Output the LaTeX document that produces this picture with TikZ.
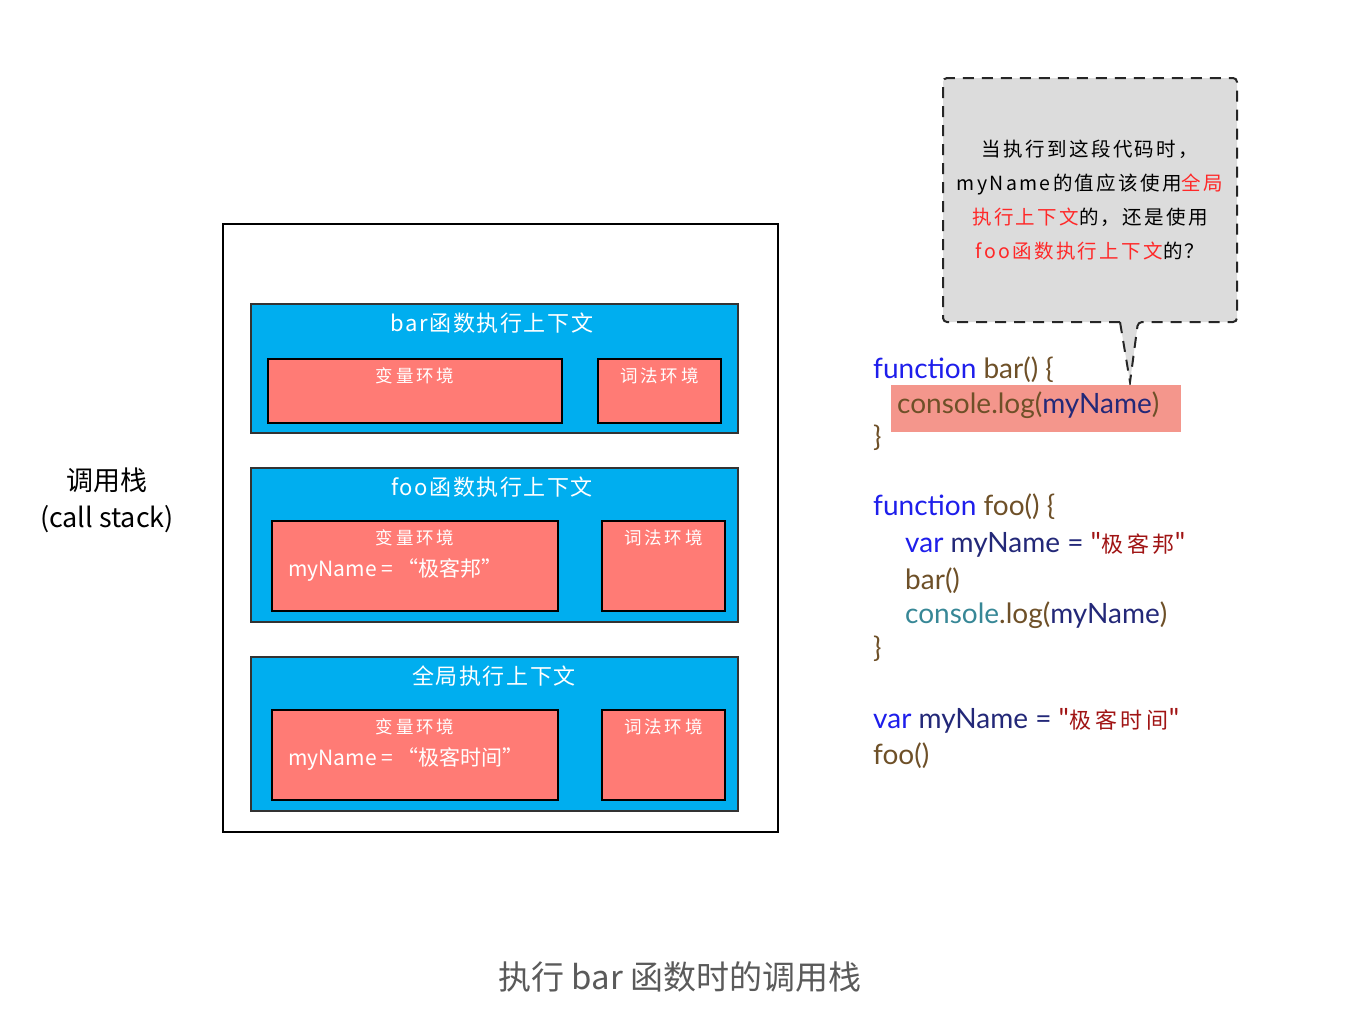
\documentclass[tikz,border=0pt]{standalone}
\usepackage{fontspec}
\setmainfont{Noto Sans CJK SC}
\newfontfamily\cjk{Noto Sans CJK SC}
\newfontfamily\widecjk[LetterSpace=12]{Noto Sans CJK SC}
\newfontfamily\midcjk[LetterSpace=7]{Noto Sans CJK SC}
\newfontfamily\envcjk[LetterSpace=16]{Noto Sans CJK SC}
\newfontfamily\strcjk[LetterSpace=18]{Noto Sans CJK SC}
\newfontfamily\codefont{Lato}
\definecolor{ctxblue}{RGB}{0,174,239}
\definecolor{envred}{RGB}{255,123,117}
\definecolor{hlred}{RGB}{244,150,140}
\definecolor{bubgray}{RGB}{220,220,220}
\definecolor{qred}{RGB}{255,40,40}
\definecolor{kwblue}{RGB}{30,30,235}
\definecolor{fnbrown}{RGB}{110,80,40}
\definecolor{varnavy}{RGB}{35,40,120}
\definecolor{strred}{RGB}{160,20,20}
\definecolor{conteal}{RGB}{55,135,150}
\definecolor{capgray}{RGB}{90,90,90}
\begin{document}
\begin{tikzpicture}[x=1pt,y=-1pt,
  stackbox/.style={draw=black,line width=2.5pt,inner sep=0pt},
  ctxbox/.style={draw=black!80,line width=1.6pt,fill=ctxblue,inner sep=0pt},
  envbox/.style={draw=black,line width=2pt,fill=envred,inner sep=0pt},
  ctxtitle/.style={text=white,font=\midcjk\fontsize{22}{24}\selectfont,inner sep=0pt},
  envtitle/.style={text=white,font=\envcjk\fontsize{17.5}{20}\selectfont,inner sep=0pt},
  envval/.style={text=white,font=\fontsize{21}{24}\selectfont,inner sep=0pt,anchor=west},
  code/.style={font=\codefont\fontsize{28}{32}\selectfont,inner sep=0pt,anchor=west},
  bubtext/.style={font=\widecjk\fontsize{19.5}{34}\selectfont,inner sep=0pt,align=center}
]
\useasboundingbox (0,0) rectangle (1370,1018);

% call stack frame
\node[stackbox,minimum width=555,minimum height=608] (stack) at (500.5,528) {};
\node[font=\fontsize{27}{30}\selectfont,inner sep=0pt] (lbl1) at (107,480) {调用栈};
\node[font=\fontsize{27}{30}\selectfont,inner sep=0pt] (lbl2) at (107,519) {(call stack)};

% bar context
\node[ctxbox,minimum width=487,minimum height=129] (barctx) at (494.5,368.5) {};
\node[ctxtitle] (bartitle) at (492,323) {bar函数执行上下文};
\node[envbox,minimum width=294,minimum height=64] (barvar) at (415,391) {};
\node[envtitle] (barvart) at (415,376) {变量环境};
\node[envbox,minimum width=123,minimum height=64] (barlex) at (659.5,391) {};
\node[envtitle] (barlext) at (659.5,376) {词法环境};

% foo context
\node[ctxbox,minimum width=487,minimum height=154] (fooctx) at (494.5,545) {};
\node[ctxtitle] (footitle) at (492,487) {foo函数执行上下文};
\node[envbox,minimum width=286,minimum height=90] (foovar) at (415,566) {};
\node[envtitle] (foovart) at (415,538) {变量环境};
\node[envval] (fooval) at (288,570) {myName = “极客邦”};
\node[envbox,minimum width=123,minimum height=90] (foolex) at (663.5,566) {};
\node[envtitle] (foolext) at (663.5,538) {词法环境};

% global context
\node[ctxbox,minimum width=487,minimum height=154] (globctx) at (494.5,734) {};
\node[ctxtitle] (globtitle) at (494,676) {全局执行上下文};
\node[envbox,minimum width=286,minimum height=90] (globvar) at (415,755) {};
\node[envtitle] (globvart) at (415,727) {变量环境};
\node[envval] (globval) at (288,759) {myName = “极客时间”};
\node[envbox,minimum width=123,minimum height=90] (globlex) at (663.5,755) {};
\node[envtitle] (globlext) at (663.5,727) {词法环境};

% speech bubble
\coordinate (tipL) at (1120,322);
\coordinate (tipR) at (1138,322);
\coordinate (tip) at (1130,382);
\draw[fill=bubgray,draw=black!85,line width=2pt,dash pattern=on 11pt off 8pt,rounded corners=4pt]
  (tipL) -- (943,322) -- (943,78) -- (1237,78) -- (1237,322) -- (tipR) [sharp corners]-- (tip) -- cycle;
\node[bubtext] (bubble) at (1090,200) {%
当执行到这段代码时，\\
myName的值应该使用\textcolor{qred}{全局}\\
\textcolor{qred}{执行上下文}的，还是使用\\
\textcolor{qred}{foo函数执行上下文}的？};

% code
\node[code] (c1) at (873,370) {\textcolor{kwblue}{function} \textcolor{fnbrown}{bar() \{}};
\node[fill=hlred,minimum width=290,minimum height=47,inner sep=0pt] (hl) at (1036,408.5) {};
\node[code] (c2) at (897,405) {\textcolor{fnbrown}{console.log(}\textcolor{varnavy}{myName}\textcolor{fnbrown}{)}};
\node[code] (c3) at (873,438) {\textcolor{fnbrown}{\}}};
\node[code] (c4) at (873,507) {\textcolor{kwblue}{function} \textcolor{fnbrown}{foo() \{}};
\node[code] (c5) at (905,545) {\textcolor{kwblue}{var} \textcolor{varnavy}{myName =} \textcolor{strred}{"{\strcjk\fontsize{22}{26}\selectfont 极客邦}"}};
\node[code] (c6) at (905,581) {\textcolor{fnbrown}{bar()}};
\node[code] (c7) at (905,615) {\textcolor{conteal}{console}\textcolor{fnbrown}{.log(}\textcolor{varnavy}{myName}\textcolor{fnbrown}{)}};
\node[code] (c8) at (873,649) {\textcolor{fnbrown}{\}}};
\node[code] (c9) at (873,721) {\textcolor{kwblue}{var} \textcolor{varnavy}{myName =} \textcolor{strred}{"{\strcjk\fontsize{22}{26}\selectfont 极客时间}"}};
\node[code] (c10) at (873,756) {\textcolor{fnbrown}{foo()}};

% caption
\node[text=capgray,font=\fontsize{33}{38}\selectfont,inner sep=0pt] (cap) at (680,977) {执行 bar 函数时的调用栈};
\end{tikzpicture}
\end{document}
